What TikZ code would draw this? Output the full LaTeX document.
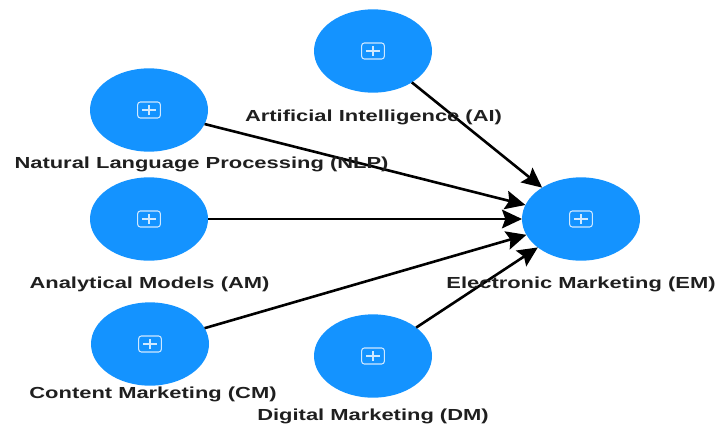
\documentclass[tikz,border=0pt]{standalone}
\usepackage{graphicx}
\usepackage{fontspec}
\setmainfont{Liberation Sans}
\usetikzlibrary{shapes.geometric,arrows.meta}
\definecolor{lvc}{HTML}{1493FF}
\newcommand{\lvtext}[1]{\scalebox{1.37}[1]{#1}}
\tikzset{
 lv/.style={ellipse,fill=lvc,draw=none,minimum width=88.5pt,minimum height=62.5pt,inner sep=0pt,outer sep=0pt},
 lvname/.style={font=\bfseries\fontsize{12}{14}\selectfont,text=black!88,inner sep=0pt,anchor=center},
 link/.style={draw=black,line width=1.95pt,-{Stealth[length=15pt,width=14pt,inset=2.5pt]}},
 plusbox/.style={draw=white!80!lvc,line width=0.8pt,rounded corners=2pt,minimum width=17pt,minimum height=12pt,inner sep=0pt,
 path picture={\draw[white!80!lvc,line width=.8pt] (path picture bounding box.center) ++(-5pt,0)--++(10pt,0) (path picture bounding box.center) ++(0,-3.8pt)--++(0,7.6pt);}}
}
\begin{document}
\begin{tikzpicture}[x=0.75pt,y=-0.75pt]
\useasboundingbox (0,0) rectangle (715,426);
\node[lv] (ai) at (373,51) {};
\node[lv] (nlp) at (149,110) {};
\node[lv] (am) at (149,219) {};
\node[lv] (cm) at (150,344) {};
\node[lv] (dm) at (373,356) {};
\node[lv] (em) at (581,219) {};
\foreach \n in {ai,nlp,am,cm,dm,em}{\node[plusbox] (p\n) at (\n) {};}
\draw[link] (ai) -- (em);
\draw[link] (nlp) -- (em);
\draw[link] (am) -- (em);
\draw[link] (cm) -- (em);
\draw[link] (dm) -- (em);
\node[lvname] (tai) at (373.5,117.5) {\lvtext{Artificial Intelligence (AI)}};
\node[lvname] (tnlp) at (201.5,164.5) {\lvtext{Natural Language Processing (NLP)}};
\node[lvname] (tam) at (149.5,284.5) {\lvtext{Analytical Models (AM)}};
\node[lvname] (tcm) at (153,394.5) {\lvtext{Content Marketing (CM)}};
\node[lvname] (tdm) at (373,416.5) {\lvtext{Digital Marketing (DM)}};
\node[lvname] (tem) at (581,284.5) {\lvtext{Electronic Marketing (EM)}};
\end{tikzpicture}
\end{document}
